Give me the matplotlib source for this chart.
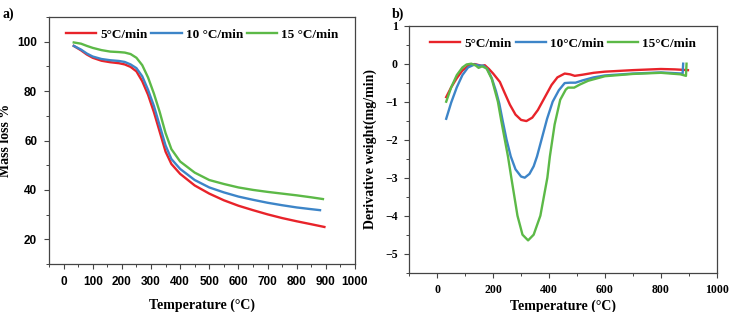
import matplotlib.pyplot as plt
from matplotlib.ticker import MultipleLocator

# TGA curves (panel a)
tga_temp_5 = [35, 60, 80, 100, 130, 160, 190, 210, 230, 250, 270, 290, 310, 330, 350, 370,
              400, 450, 500, 550, 600, 650, 700, 750, 800, 850, 895]
tga_mass_5 = [98.3, 96.5, 94.8, 93.5, 92.3, 91.7, 91.3, 90.8, 89.8, 88.0, 84.0, 78.5, 71.5,
              63.5, 55.5, 50.5, 46.5, 41.8, 38.5, 35.8, 33.6, 31.8, 30.1, 28.6, 27.3, 26.1, 25.0]

tga_temp_10 = [35, 60, 80, 100, 130, 160, 190, 210, 230, 250, 270, 290, 310, 330, 350, 370,
               400, 450, 500, 550, 600, 650, 700, 750, 800, 850, 880]
tga_mass_10 = [98.3, 96.8, 95.2, 94.0, 93.0, 92.5, 92.2, 91.8, 90.8, 89.3, 86.0, 80.5, 74.0,
               66.0, 58.0, 52.5, 48.5, 44.0, 41.0, 39.0, 37.3, 36.0, 34.8, 33.8, 32.9, 32.2, 31.8]

tga_temp_15 = [35, 60, 80, 100, 130, 160, 190, 210, 230, 250, 270, 290, 310, 330, 350, 370,
               400, 450, 500, 550, 600, 650, 700, 750, 800, 850, 890]
tga_mass_15 = [99.7, 99.2, 98.3, 97.5, 96.6, 96.0, 95.8, 95.6, 95.0, 93.5, 90.5, 85.5, 79.0,
               71.5, 63.0, 56.5, 51.5, 47.0, 44.0, 42.4, 41.0, 40.0, 39.2, 38.5, 37.8, 37.0, 36.3]

# DTG curves (panel b)
dtg_temp_5 = [32, 50, 70, 90, 110, 134, 150, 160, 170, 185, 200, 224, 240, 260, 280, 300,
              319, 340, 360, 380, 409, 430, 456, 475, 492, 520, 560, 600, 700, 800, 850, 897]
dtg_rate_5 = [-0.88, -0.62, -0.38, -0.18, -0.06, -0.01, -0.04, -0.06, -0.04, -0.14, -0.26,
              -0.48, -0.75, -1.08, -1.34, -1.48, -1.51, -1.42, -1.22, -0.95, -0.56, -0.36,
              -0.26, -0.28, -0.32, -0.29, -0.24, -0.21, -0.17, -0.14, -0.15, -0.17]

dtg_temp_10 = [32, 50, 70, 90, 110, 134, 150, 165, 180, 195, 210, 222, 234, 248, 263, 280,
               300, 313, 330, 345, 357, 373, 393, 413, 435, 456, 475, 495, 520, 560, 600,
               700, 800, 878, 880]
dtg_rate_10 = [-1.45, -1.02, -0.62, -0.30, -0.10, -0.02, -0.05, -0.05, -0.15, -0.38, -0.72,
               -1.05, -1.5, -2.0, -2.44, -2.78, -2.97, -3.0, -2.9, -2.7, -2.44, -2.0, -1.45,
               -1.0, -0.7, -0.51, -0.50, -0.50, -0.44, -0.36, -0.31, -0.26, -0.23, -0.26, 0.0]

dtg_temp_15 = [32, 50, 70, 90, 105, 122, 138, 148, 160, 176, 195, 217, 229, 253, 265, 287,
               305, 325, 345, 369, 394, 403, 420, 440, 460, 468, 490, 510, 540, 600, 700,
               800, 870, 890, 892]
dtg_rate_15 = [-1.0, -0.62, -0.30, -0.10, -0.02, 0.0, -0.05, -0.11, -0.07, -0.12, -0.4, -1.0,
               -1.5, -2.44, -3.0, -4.0, -4.5, -4.65, -4.5, -4.0, -3.0, -2.44, -1.6, -0.95,
               -0.68, -0.63, -0.63, -0.55, -0.45, -0.33, -0.27, -0.24, -0.28, -0.32, 0.0]

RED = "#e8232a"
BLUE = "#3d85c8"
GREEN = "#5cb947"
SPINE = "#444444"

serif = "Liberation Serif"
sans = "Liberation Sans"

fig = plt.figure(figsize=(7.3, 3.12), dpi=100)
ax1 = fig.add_axes([0.0671, 0.1538, 0.4192, 0.7917])
ax2 = fig.add_axes([0.5607, 0.1260, 0.4211, 0.7917])

ax1.plot(tga_temp_5, tga_mass_5, color=RED, lw=1.7, label="5°C/min")
ax1.plot(tga_temp_10, tga_mass_10, color=BLUE, lw=1.7, label="10 °C/min")
ax1.plot(tga_temp_15, tga_mass_15, color=GREEN, lw=1.7, label="15 °C/min")
ax1.set_xlim(-50, 1000)
ax1.set_ylim(10, 110)
ax1.xaxis.set_major_locator(MultipleLocator(100))
ax1.xaxis.set_minor_locator(MultipleLocator(50))
ax1.yaxis.set_minor_locator(MultipleLocator(10))
ax1.set_yticks([20, 40, 60, 80, 100])
ax1.set_xlabel("Temperature (°C)", family=serif, weight="bold", fontsize=10, labelpad=8)
ax1.set_ylabel("Mass loss %", family=serif, weight="bold", fontsize=10, labelpad=4)
for lab in ax1.get_xticklabels() + ax1.get_yticklabels():
    lab.set_family(sans)
    lab.set_weight("bold")
    lab.set_fontsize(8.5)

ax2.plot(dtg_temp_5, dtg_rate_5, color=RED, lw=1.7, label="5°C/min")
ax2.plot(dtg_temp_10, dtg_rate_10, color=BLUE, lw=1.7, label="10°C/min")
ax2.plot(dtg_temp_15, dtg_rate_15, color=GREEN, lw=1.7, label="15°C/min")
ax2.set_xlim(-100, 1000)
ax2.set_ylim(-5.5, 1)
ax2.xaxis.set_minor_locator(MultipleLocator(100))
ax2.yaxis.set_major_locator(MultipleLocator(1))
ax2.yaxis.set_minor_locator(MultipleLocator(0.5))
ax2.set_xticks([0, 200, 400, 600, 800, 1000])
ax2.set_xlabel("Temperature (°C)", family=serif, weight="bold", fontsize=10, labelpad=2)
ax2.set_ylabel("Derivative weight(mg/min)", family=serif, weight="bold", fontsize=10, labelpad=6)
for lab in ax2.get_xticklabels() + ax2.get_yticklabels():
    lab.set_family(serif)
    lab.set_weight("bold")
    lab.set_fontsize(8.5)

for ax in (ax1, ax2):
    for sp in ax.spines.values():
        sp.set_color(SPINE)
        sp.set_linewidth(0.9)
    ax.tick_params(which="both", direction="out", color=SPINE, top=False, right=False)
    ax.tick_params(which="major", length=3.5, width=0.8, pad=5)
    ax.tick_params(which="minor", length=2, width=0.7)
    ax.legend(loc="upper center", bbox_to_anchor=(0.5, 1.0), ncol=3, frameon=False,
              prop={"family": serif, "weight": "bold", "size": 9.5},
              handlelength=2.3, handletextpad=0.3, columnspacing=0.3, borderaxespad=0.5)

fig.text(0.003, 0.975, "a)", family=serif, weight="bold", fontsize=10, va="top")
fig.text(0.537, 0.975, "b)", family=serif, weight="bold", fontsize=10, va="top")

fig.savefig("out.png", dpi=100)
